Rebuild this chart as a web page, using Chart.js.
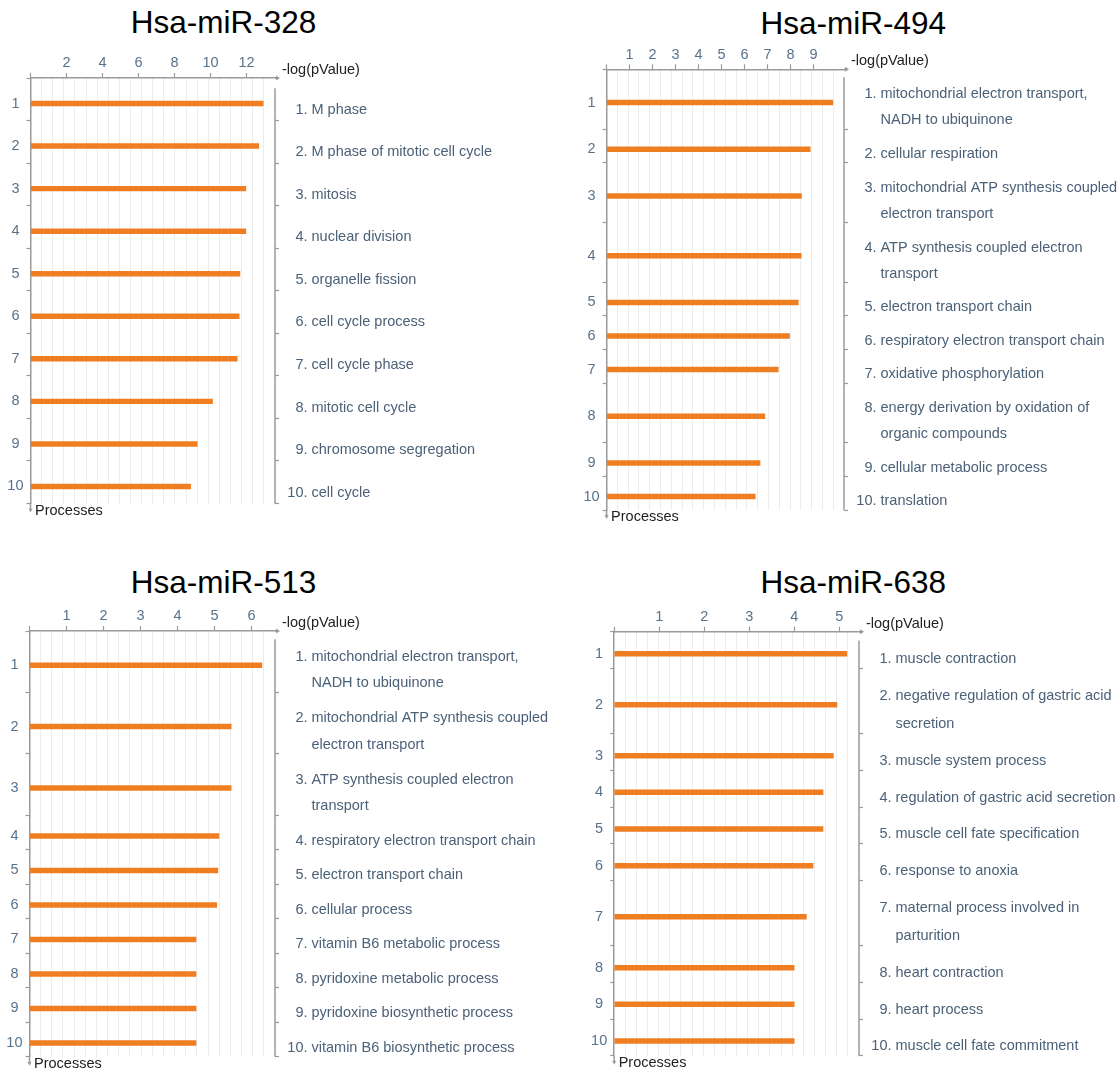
<!DOCTYPE html>
<html><head><meta charset="utf-8">
<script src="https://cdn.jsdelivr.net/npm/chart.js@4.4.1/dist/chart.umd.min.js"></script>
<style>
html,body{margin:0;padding:0;background:#fff;width:1120px;height:1071px;overflow:hidden;}
canvas{position:absolute;left:0;top:0;}
.title{position:absolute;font-family:"Liberation Sans",Arial,sans-serif;font-size:31.5px;line-height:31.5px;color:#000;white-space:nowrap;}
</style></head><body>
<div class="title" id="t0"></div><div class="title" id="t1"></div>
<div class="title" id="t2"></div><div class="title" id="t3"></div>
<canvas id="c0" width="1120" height="1071"></canvas>
<canvas id="c1" width="1120" height="1071"></canvas>
<canvas id="c2" width="1120" height="1071"></canvas>
<canvas id="c3" width="1120" height="1071"></canvas>
<script>
// ---------- data ----------
const titles = ["Hsa-miR-328", "Hsa-miR-494", "Hsa-miR-513", "Hsa-miR-638"];
const xAxisName = "-log(pValue)";
const yAxisName = "Processes";

const p328Processes = ["M phase", "M phase of mitotic cell cycle", "mitosis", "nuclear division",
  "organelle fission", "cell cycle process", "cell cycle phase", "mitotic cell cycle",
  "chromosome segregation", "cell cycle"];
const p328Values = [12.92, 12.68, 11.96, 11.96, 11.63, 11.59, 11.48, 10.11, 9.26, 8.89];
const p328Ticks = [2, 4, 6, 8, 10, 12];

const p494Processes = [["mitochondrial electron transport,", "NADH to ubiquinone"], "cellular respiration",
  ["mitochondrial ATP synthesis coupled", "electron transport"], ["ATP synthesis coupled electron", "transport"],
  "electron transport chain", "respiratory electron transport chain", "oxidative phosphorylation",
  ["energy derivation by oxidation of", "organic compounds"], "cellular metabolic process", "translation"];
const p494Values = [9.83, 8.85, 8.47, 8.46, 8.33, 7.95, 7.46, 6.88, 6.67, 6.46];
const p494Ticks = [1, 2, 3, 4, 5, 6, 7, 8, 9];

const p513Processes = [["mitochondrial electron transport,", "NADH to ubiquinone"],
  ["mitochondrial ATP synthesis coupled", "electron transport"], ["ATP synthesis coupled electron", "transport"],
  "respiratory electron transport chain", "electron transport chain", "cellular process",
  "vitamin B6 metabolic process", "pyridoxine metabolic process", "pyridoxine biosynthetic process",
  "vitamin B6 biosynthetic process"];
const p513Values = [6.28, 5.45, 5.45, 5.12, 5.09, 5.06, 4.50, 4.50, 4.50, 4.50];
const p513Ticks = [1, 2, 3, 4, 5, 6];

const p638Processes = ["muscle contraction", ["negative regulation of gastric acid", "secretion"],
  "muscle system process", "regulation of gastric acid secretion", "muscle cell fate specification",
  "response to anoxia", ["maternal process involved in", "parturition"], "heart contraction",
  "heart process", "muscle cell fate commitment"];
const p638Values = [5.17, 4.95, 4.87, 4.64, 4.64, 4.42, 4.27, 4.00, 4.00, 4.00];
const p638Ticks = [1, 2, 3, 4, 5];

// axis ranges (value at right edge of plot)
const xMaxes = [13.58, 10.32, 6.635, 5.44];

// ---------- layout / style ----------
const FONT = '"Liberation Sans", Arial, sans-serif';
const FS = 14.5;
const TITLE_FS = 31.5;
const BAR = '#ef7d22';
const AXIS = '#9a9a9a';
const GRIDC = '#ececec';
const NUM = '#58728c';
const LABEL = '#4b6178';
const DARK = '#222222';
const W = 1120, H = 1071, LW = 30, TH = 40, RW = 10;
const LINE_UNIT = 0.77, ROW_EXTRA = 0.78, BAR_SHIFT = 0.1, LABEL_SHIFT = 0.245, BRACKET_START = 0.24;
const GRID_DIV = 22;

const panels = [
  {title: titles[0], processes: p328Processes, values: p328Values, ticks: p328Ticks, xMax: xMaxes[0],
   box: {left: 30.5, right: 275, top: 78, bottom: 503.5}, titleX: 130.8, titleBase: 33.3},
  {title: titles[1], processes: p494Processes, values: p494Values, ticks: p494Ticks, xMax: xMaxes[1],
   box: {left: 606.6, right: 844, top: 69.3, bottom: 510}, titleX: 760.5, titleBase: 34.5},
  {title: titles[2], processes: p513Processes, values: p513Values, ticks: p513Ticks, xMax: xMaxes[2],
   box: {left: 29.5, right: 275, top: 631, bottom: 1056.7}, titleX: 130.8, titleBase: 593.3},
  {title: titles[3], processes: p638Processes, values: p638Values, ticks: p638Ticks, xMax: xMaxes[3],
   box: {left: 614.2, right: 859, top: 631.7, bottom: 1055.7}, titleX: 760.5, titleBase: 593.3},
];

function rowsFor(labels) {
  let acc = 0; const bounds = [0], bars = [], labs = [];
  labels.forEach(l => {
    const n = Array.isArray(l) ? l.length : 1;
    const h = 1 + ROW_EXTRA * (n - 1);
    bars.push(acc + h / 2 + BAR_SHIFT);
    labs.push(acc + h / 2 + LABEL_SHIFT);
    acc += h; bounds.push(acc);
  });
  return {bounds, bars, labs, total: acc};
}
function zero(s) { s.paddingLeft = 0; s.paddingRight = 0; s.paddingTop = 0; s.paddingBottom = 0; }

function build(canvas, p) {
  const r = rowsFor(p.processes);
  const nb = r.bounds.length;
  const overlay = {
    id: 'overlay',
    afterDraw(chart) {
      const ctx = chart.ctx, a = chart.chartArea, ys = chart.scales.y;
      ctx.save();
      ctx.strokeStyle = AXIS; ctx.fillStyle = AXIS; ctx.lineWidth = 1.5;
      // top axis arrow
      ctx.beginPath(); ctx.moveTo(a.right, a.top); ctx.lineTo(a.right + 3, a.top); ctx.stroke();
      ctx.beginPath(); ctx.moveTo(a.right + 5, a.top); ctx.lineTo(a.right + 1, a.top - 2.5);
      ctx.lineTo(a.right + 1, a.top + 2.5); ctx.closePath(); ctx.fill();
      // left axis down arrow
      ctx.beginPath(); ctx.moveTo(a.left, a.bottom); ctx.lineTo(a.left, a.bottom + 5); ctx.stroke();
      ctx.beginPath(); ctx.moveTo(a.left, a.bottom + 9); ctx.lineTo(a.left - 2, a.bottom + 5);
      ctx.lineTo(a.left + 2, a.bottom + 5); ctx.closePath(); ctx.fill();
      // right bracket line
      const y0 = ys.getPixelForValue(BRACKET_START);
      ctx.beginPath(); ctx.moveTo(a.right, y0); ctx.lineTo(a.right, a.bottom); ctx.stroke();
      // process labels
      ctx.font = FS + 'px ' + FONT; ctx.fillStyle = LABEL; ctx.textBaseline = 'middle';
      const step = ys.getPixelForValue(LINE_UNIT) - ys.getPixelForValue(0);
      p.processes.forEach((l, i) => {
        const lines = Array.isArray(l) ? l : [l];
        const yc = ys.getPixelForValue(r.labs[i]);
        const y1 = yc - step * (lines.length - 1) / 2;
        ctx.textAlign = 'right'; ctx.fillText((i + 1) + '.', a.right + 32.5, y1);
        ctx.textAlign = 'left';
        lines.forEach((t, k) => ctx.fillText(t, a.right + 36.5, y1 + k * step));
      });
      // axis names
      ctx.fillStyle = DARK; ctx.textAlign = 'left';
      ctx.fillText(xAxisName, a.right + 7, a.top - 8);
      ctx.fillText(yAxisName, a.left + 4.5, a.bottom + 7);
      ctx.restore();
    }
  };
  return new Chart(canvas, {
    type: 'bar',
    data: {datasets: [{
      data: p.values.map((v, i) => ({x: v, y: r.bars[i]})),
      backgroundColor: BAR, borderWidth: 0, barThickness: 4.8, xAxisID: 'x', yAxisID: 'y'
    }]},
    options: {
      indexAxis: 'y', responsive: false, animation: false, events: [],
      layout: {padding: {left: p.box.left - LW, top: p.box.top - TH, right: W - p.box.right - RW, bottom: H - p.box.bottom}},
      plugins: {legend: {display: false}, tooltip: {enabled: false}, title: {display: false}},
      scales: {
        x: {
          type: 'linear', position: 'top', min: 0, max: p.xMax, offset: false,
          afterBuildTicks: s => { s.ticks = [0, ...p.ticks].map(v => ({value: v})); },
          afterFit: s => { s.height = TH; zero(s); },
          ticks: {callback: v => v === 0 ? '' : String(v), font: {family: FONT, size: FS}, color: NUM,
                  padding: 1, autoSkip: false, maxRotation: 0},
          grid: {offset: false, drawOnChartArea: false, tickLength: 5, tickColor: AXIS, tickWidth: 1.2},
          border: {color: AXIS, width: 1.5}
        },
        xg: {
          type: 'linear', position: 'bottom', min: 0, max: GRID_DIV, offset: false,
          afterBuildTicks: s => { const t = []; for (let i = 0; i <= GRID_DIV; i++) t.push({value: i}); s.ticks = t; },
          afterFit: s => { s.height = 0; zero(s); },
          ticks: {display: false},
          grid: {offset: false, color: c => (c.index === 0 || c.index === GRID_DIV) ? 'rgba(0,0,0,0)' : GRIDC, drawTicks: false, lineWidth: 1},
          border: {display: false}
        },
        y: {
          type: 'linear', position: 'left', reverse: true, min: 0, max: r.total, offset: false,
          afterBuildTicks: s => { s.ticks = [...r.bounds, ...r.bars].map(v => ({value: v})); },
          afterFit: s => { s.width = LW; zero(s); },
          ticks: {callback: (v, i) => i < nb ? '' : String(i - nb + 1), font: {family: FONT, size: FS},
                  color: NUM, padding: 3, crossAlign: 'center', autoSkip: false},
          grid: {offset: false, drawOnChartArea: false, tickLength: 4, tickColor: c => c.index < nb ? AXIS : 'rgba(0,0,0,0)', tickWidth: 1.2},
          border: {color: AXIS, width: 1.5}
        },
        yr: {
          type: 'linear', position: 'right', reverse: true, min: 0, max: r.total, offset: false,
          afterBuildTicks: s => { s.ticks = r.bounds.slice(1).map(v => ({value: v})); },
          afterFit: s => { s.width = RW; zero(s); },
          ticks: {display: false, autoSkip: false},
          grid: {offset: false, drawOnChartArea: false, tickLength: 4, tickColor: AXIS, tickWidth: 1.2},
          border: {display: false}
        }
      }
    },
    plugins: [overlay]
  });
}

panels.forEach((p, i) => {
  const t = document.getElementById('t' + i);
  t.textContent = p.title;
  t.style.left = p.titleX + 'px';
  t.style.top = (p.titleBase - 0.8465 * TITLE_FS) + 'px';
  build(document.getElementById('c' + i), p);
});
</script>
</body></html>
